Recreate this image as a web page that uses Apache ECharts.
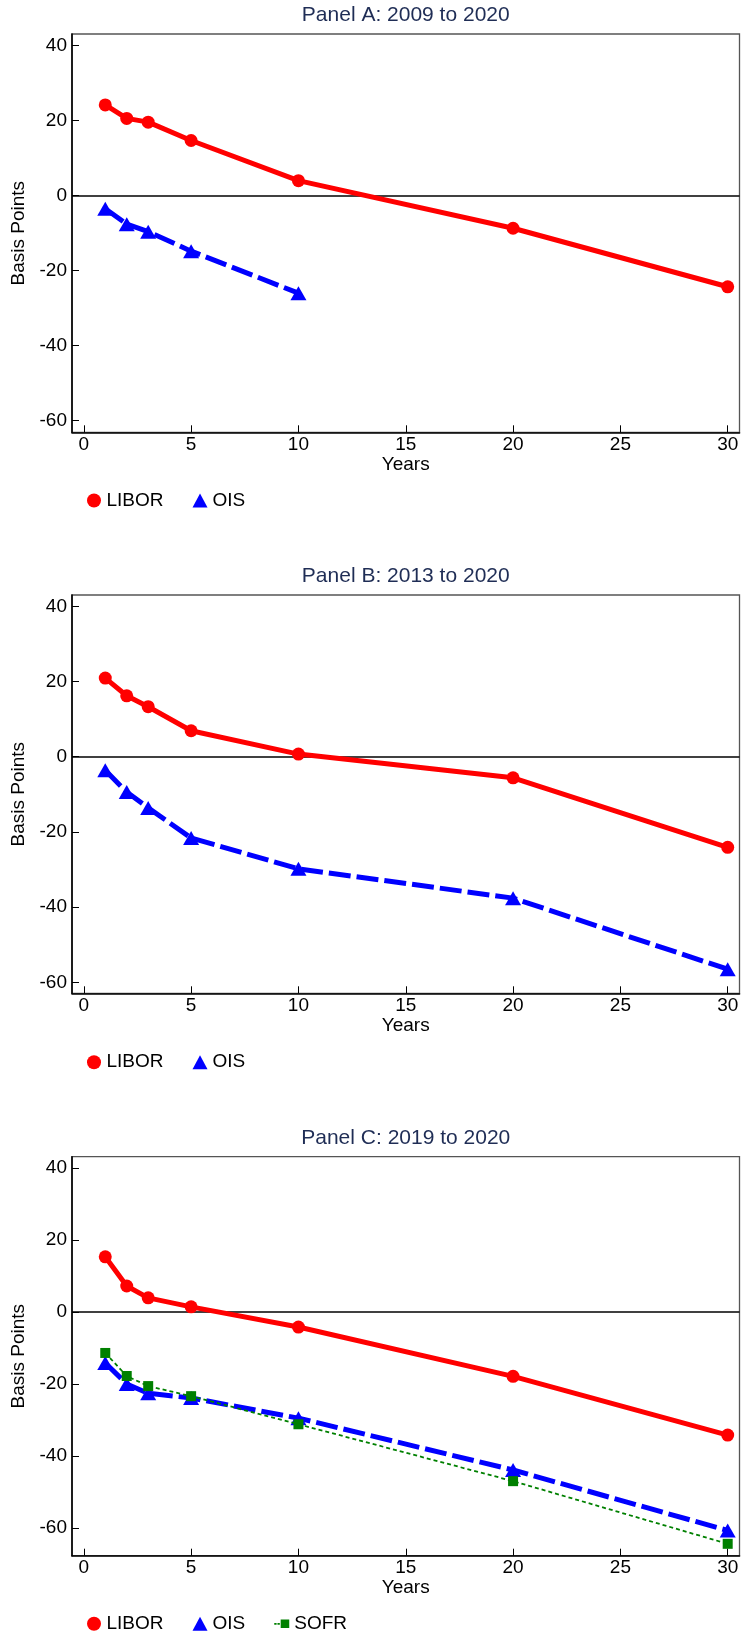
<!DOCTYPE html>
<html><head><meta charset="utf-8">
<script src="https://cdn.jsdelivr.net/npm/echarts@6/dist/echarts.min.js"></script>
<style>html,body{margin:0;padding:0;background:#fff}#c{width:744px;height:1634px}</style>
</head><body><div id="c"></div>
<script>
// ---- data ----
const years = [1, 2, 3, 5, 10, 20, 30];
const yearsOisA = [1, 2, 3, 5, 10];
const liborA = [24.2, 20.6, 19.6, 14.7, 4.0, -8.7, -24.3];
const oisA = [-3.5, -7.6, -9.6, -14.8, -26.0];
const liborB = [20.9, 16.2, 13.3, 6.9, 0.7, -5.6, -24.1];
const oisB = [-3.6, -9.4, -13.6, -21.6, -29.8, -37.6, -56.5];
const liborC = [15.3, 7.2, 3.9, 1.4, -4.2, -17.9, -34.2];
const oisC = [-14.2, -20.0, -22.6, -23.9, -29.5, -43.9, -60.7];
const sofrC = [-11.4, -17.8, -20.6, -23.4, -31.2, -47.0, -64.4];
const panelTitles = ['Panel A: 2009 to 2020', 'Panel B: 2013 to 2020', 'Panel C: 2019 to 2020'];
const xTicks = [0, 5, 10, 15, 20, 25, 30];
const yTicks = [-60, -40, -20, 0, 20, 40];

// ---- layout ----
const FONT = "'Liberation Sans', Arial, sans-serif";
const gridTops = [34, 595, 1156.7];
const gridHeights = [398.3, 398.3, 399];
const yRanges = [[-63.1, 43.1], [-62.9, 43.0], [-67.7, 43.1]];
const titleCenters = [16.7, 577.3, 1140];
const legendCenters = [501, 1062.7, 1624.3];
const xRange = [-0.55, 30.55];
const GL = 72, GR = 744 - 739.5;

const pairs = (xs, ys) => xs.map((x, i) => [x, ys[i]]);

const grids = [], xAxes = [], yAxes = [], titles = [], legends = [], series = [];
for (let p = 0; p < 3; p++) {
  grids.push({left: GL, right: GR, top: gridTops[p], height: gridHeights[p],
    show: true, borderColor: '#555', borderWidth: 1.3, backgroundColor: '#fff'});
  xAxes.push({type: 'value', gridIndex: p, min: xRange[0], max: xRange[1],
    name: 'Years', nameLocation: 'middle', nameGap: 21,
    nameTextStyle: {fontFamily: FONT, fontSize: 19, color: '#000'},
    axisLine: {show: true, onZero: false, lineStyle: {color: '#000', width: 1.6}},
    axisTick: {show: true, inside: true, length: 7, customValues: xTicks, lineStyle: {color: '#000', width: 1}},
    axisLabel: {customValues: xTicks, margin: 3, fontFamily: FONT, fontSize: 19, color: '#000'},
    splitLine: {show: false}});
  yAxes.push({type: 'value', gridIndex: p, min: yRanges[p][0], max: yRanges[p][1],
    name: 'Basis Points', nameLocation: 'middle', nameGap: 40,
    nameTextStyle: {fontFamily: FONT, fontSize: 19, color: '#000'},
    axisLine: {show: true, onZero: false, lineStyle: {color: '#000', width: 1.6}},
    axisTick: {show: true, inside: true, length: 7, customValues: yTicks, lineStyle: {color: '#000', width: 1}},
    axisLabel: {customValues: yTicks, margin: 5, fontFamily: FONT, fontSize: 19, color: '#000'},
    splitLine: {show: false}});
  titles.push({text: panelTitles[p], left: (GL + 739.5) / 2, top: titleCenters[p] - 12,
    textAlign: 'center', padding: 0,
    textStyle: {fontFamily: FONT, fontSize: 21, fontWeight: 'normal', color: '#1f2d55'}});
}

const libors = [liborA, liborB, liborC];
const oisXs = [yearsOisA, years, years];
const oiss = [oisA, oisB, oisC];
for (let p = 0; p < 3; p++) {
  series.push({name: 'LIBOR', type: 'line', xAxisIndex: p, yAxisIndex: p,
    data: pairs(years, libors[p]), symbol: 'circle', symbolSize: 13, showAllSymbol: true,
    color: '#ff0000', lineStyle: {color: '#ff0000', width: 5}, itemStyle: {color: '#ff0000'},
    animation: false, z: 2,
    markLine: {silent: true, symbol: 'none', z: 1, label: {show: false}, animation: false,
      lineStyle: {color: '#000', width: 1.6, type: 'solid'}, data: [{yAxis: 0}]}});
  series.push({name: 'OIS', type: 'line', xAxisIndex: p, yAxisIndex: p,
    data: pairs(oisXs[p], oiss[p]), symbol: 'triangle', symbolSize: [16, 14], showAllSymbol: true,
    color: '#0000ff', lineStyle: {color: '#0000ff', width: 5, type: [22, 6]}, itemStyle: {color: '#0000ff'},
    animation: false, z: 3});
}
series.push({name: 'SOFR', type: 'line', xAxisIndex: 2, yAxisIndex: 2,
  data: pairs(years, sofrC), symbol: 'rect', symbolSize: 10, showAllSymbol: true,
  color: '#008000', lineStyle: {color: '#008000', width: 1.8, type: [4, 3]}, itemStyle: {color: '#008000'},
  animation: false, z: 4});

const sofrIcon = 'path://M0,6.2h2.2v1.6h-2.2z M3,6.2h2.2v1.6h-2.2z M6,3h8v8h-8z';
const legendItems = [
  [{name: 'LIBOR', icon: 'circle'}, {name: 'OIS', icon: 'triangle'}],
  [{name: 'LIBOR', icon: 'circle'}, {name: 'OIS', icon: 'triangle'}],
  [{name: 'LIBOR', icon: 'circle'}, {name: 'OIS', icon: 'triangle'}, {name: 'SOFR', icon: sofrIcon}]
];
for (let p = 0; p < 3; p++) {
  legends.push({data: legendItems[p], left: 87, top: legendCenters[p] - 10, padding: 0,
    orient: 'horizontal', itemWidth: 15, itemHeight: 14, itemGap: 29, selectedMode: false,
    textStyle: {fontFamily: FONT, fontSize: 19, color: '#000', padding: [0, 0, 0, 0]}});
}

const chart = echarts.init(document.getElementById('c'), null, {renderer: 'canvas'});
chart.setOption({backgroundColor: '#fff', animation: false,
  title: titles, legend: legends, grid: grids, xAxis: xAxes, yAxis: yAxes, series: series});
</script></body></html>
